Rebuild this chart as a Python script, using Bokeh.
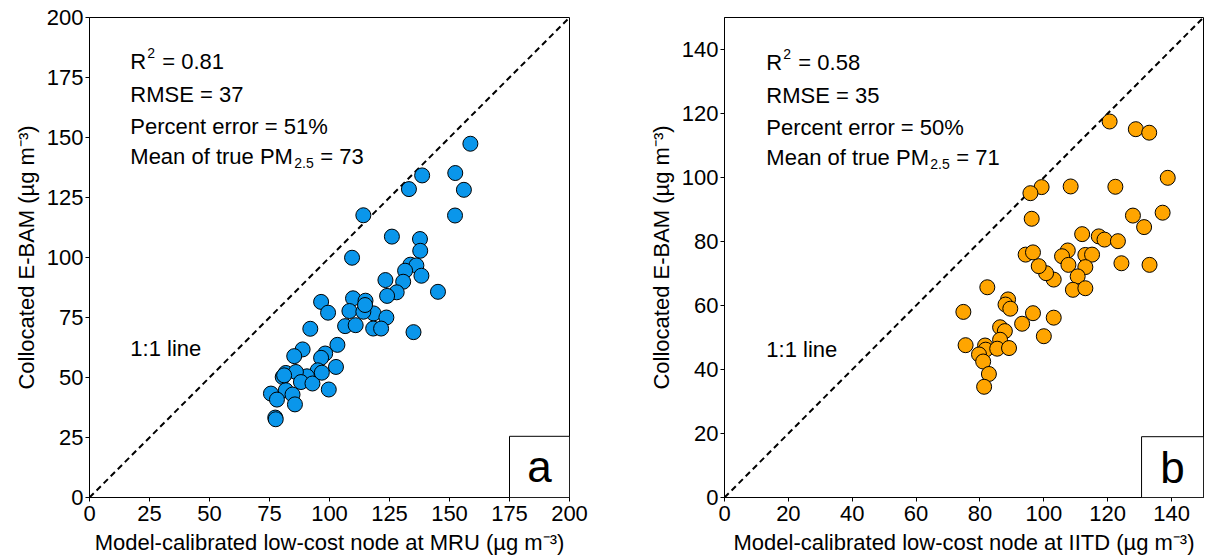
from bokeh.plotting import figure
from bokeh.models import Range1d, Label, BoxAnnotation, FixedTicker
from bokeh.layouts import row
from bokeh.embed import file_html
from bokeh.resources import INLINE

# ---------------- data ----------------
mru_x = [158.7, 138.6, 133.1, 152.4, 156.0, 152.3, 114.1, 126.0, 137.7, 137.8,
         109.4, 133.7, 136.2, 131.5, 138.3, 123.3, 130.7, 145.2, 128.0, 124.0,
         109.8, 115.0, 96.5, 99.4, 108.3, 118.4, 123.7, 114.1, 106.5, 110.9,
         118.2, 121.5, 135.0, 92.0, 103.3, 88.8, 85.3, 98.2, 96.5, 102.7,
         95.1, 90.6, 80.5, 81.8, 86.0, 88.1, 92.9, 99.7, 75.6, 81.8,
         84.6, 78.1, 85.6, 77.4, 77.6, 81.1, 114.8, 96.8]
mru_y = [147.4, 134.2, 128.5, 135.2, 128.2, 117.5, 117.6, 108.7, 107.7, 102.8,
         99.9, 97.0, 96.7, 94.5, 92.4, 90.6, 89.9, 85.7, 85.5, 84.0,
         83.0, 82.0, 81.5, 77.0, 77.7, 76.7, 75.0, 77.4, 71.4, 71.8,
         70.4, 70.4, 68.9, 70.3, 63.6, 61.7, 58.9, 60.0, 58.2, 54.4,
         53.0, 50.5, 50.2, 51.9, 52.3, 48.1, 47.5, 45.0, 43.3, 44.7,
         42.9, 40.8, 38.8, 33.3, 32.6, 50.9, 80.2, 52.0]

iitd_x = [120.6, 128.8, 133.0, 138.8, 122.4, 108.4, 99.3, 95.8, 127.9, 137.2,
          131.4, 96.2, 112.0, 117.2, 119.0, 123.2, 107.5, 105.7, 113.0, 115.1,
          107.7, 113.0, 124.3, 133.1, 110.6, 109.1, 113.0, 103.1, 100.7, 98.4,
          94.3, 96.6, 82.3, 88.8, 88.0, 89.5, 74.8, 96.6, 93.2, 103.1,
          86.3, 87.8, 86.3, 100.0, 75.5, 81.6, 81.8, 79.7, 85.4, 89.1,
          81.0, 82.8, 81.3]
iitd_y = [117.5, 115.1, 114.0, 99.9, 97.1, 97.2, 97.0, 95.1, 88.1, 89.0,
          84.5, 87.1, 82.3, 81.6, 80.6, 80.1, 77.2, 75.4, 75.8, 75.9,
          72.7, 72.0, 73.2, 72.7, 69.1, 64.9, 65.4, 68.1, 70.1, 72.3,
          75.9, 76.6, 65.7, 61.9, 60.3, 59.0, 58.0, 57.6, 54.3, 56.2,
          53.2, 52.0, 49.3, 50.4, 47.6, 47.5, 46.2, 44.7, 46.5, 46.7,
          42.5, 38.6, 34.6]

ticks_a = [0, 25, 50, 75, 100, 125, 150, 175, 200]
ticks_b = [0, 20, 40, 60, 80, 100, 120, 140]

stats_a = ["R", "2", "= 0.81", "RMSE = 37", "Percent error = 51%",
           "Mean of true PM", "2.5", "= 73"]
stats_b = ["R", "2", "= 0.58", "RMSE = 35", "Percent error = 50%",
           "Mean of true PM", "2.5", "= 71"]

ylab = "Collocated E-BAM (µg m⁻³)"
xlab_a = "Model-calibrated low-cost node at MRU (µg m⁻³)"
xlab_b = "Model-calibrated low-cost node at IITD (µg m⁻³)"

FONT = "Liberation Sans"


def panel(xs, ys, color, lim, ticks, xlabel, letter, stats, tx, ty, one_y,
          box_left, box_top, width, bl, br):
    p = figure(width=width, height=560, output_backend="svg",
               toolbar_location=None, x_range=Range1d(0, lim),
               y_range=Range1d(0, lim), min_border_left=bl,
               min_border_right=br, min_border_top=17, min_border_bottom=63)
    p.grid.visible = False
    p.outline_line_color = "black"
    p.outline_line_width = 1
    p.outline_line_alpha = 1
    for ax in (p.xaxis[0], p.yaxis[0]):
        ax.ticker = FixedTicker(ticks=ticks)
        ax.minor_tick_line_color = None
        ax.major_tick_in = 0
        ax.major_tick_out = 4
        ax.major_label_text_font = FONT
        ax.major_label_text_font_size = "22px"
        ax.major_label_text_color = "black"
        ax.axis_label_text_font = FONT
        ax.axis_label_text_font_size = "22px"
        ax.axis_label_text_font_style = "normal"
        ax.axis_label_text_color = "black"
        ax.axis_line_color = "black"
        ax.major_tick_line_color = "black"
    p.xaxis.major_label_standoff = 4
    p.yaxis.major_label_standoff = 2
    p.xaxis.axis_label = xlabel
    p.xaxis.axis_label_standoff = 6
    p.yaxis.axis_label = ylab
    p.yaxis.axis_label_standoff = 5

    p.line([0, lim], [0, lim], line_color="black", line_width=2,
           line_dash="6 4")
    p.scatter(xs, ys, size=15, fill_color=color, line_color="black",
              line_width=1)

    def lab(x, y, text, size="22px", xo=0, yo=0):
        p.add_layout(Label(x=x, y=y, text=text, x_offset=xo, y_offset=yo,
                           text_font=FONT, text_font_size=size,
                           text_color="black", text_baseline="middle",
                           text_align="left"))

    # R^2 line
    lab(tx, ty[0], stats[0])
    lab(tx, ty[0], stats[1], size="14px", xo=17, yo=9)
    lab(tx, ty[0], stats[2], xo=32)
    lab(tx, ty[1], stats[3])
    lab(tx, ty[2], stats[4])
    lab(tx, ty[3], stats[5])
    lab(tx, ty[3], stats[6], size="14px", xo=164, yo=-7)
    lab(tx, ty[3], stats[7], xo=190)
    lab(tx, one_y, "1:1 line")

    p.add_layout(BoxAnnotation(left=box_left, right=lim, bottom=0,
                               top=box_top, fill_color="white", fill_alpha=1,
                               line_color="black", line_width=1,
                               line_alpha=1))
    p.add_layout(Label(x=(box_left + lim) / 2, y=box_top / 2, text=letter,
                       text_font=FONT, text_font_size="44px",
                       text_color="black", text_align="center",
                       text_baseline="middle"))
    return p


pa = panel(mru_x, mru_y, "#0a96eb", 200, ticks_a, xlab_a, "a", stats_a,
           17.0, [181.6, 167.8, 154.5, 142.2], 62.2, 175, 25.5,
           644, 89, 75)
pb = panel(iitd_x, iitd_y, "#ffa500", 150, ticks_b, xlab_b, "b", stats_b,
           13.1, [135.9, 125.6, 115.6, 106.3], 46.3, 130.6, 19.0,
           561, 80, 2)

layout = row(pa, pb)
open("out.html", "w").write(file_html(layout, INLINE))
